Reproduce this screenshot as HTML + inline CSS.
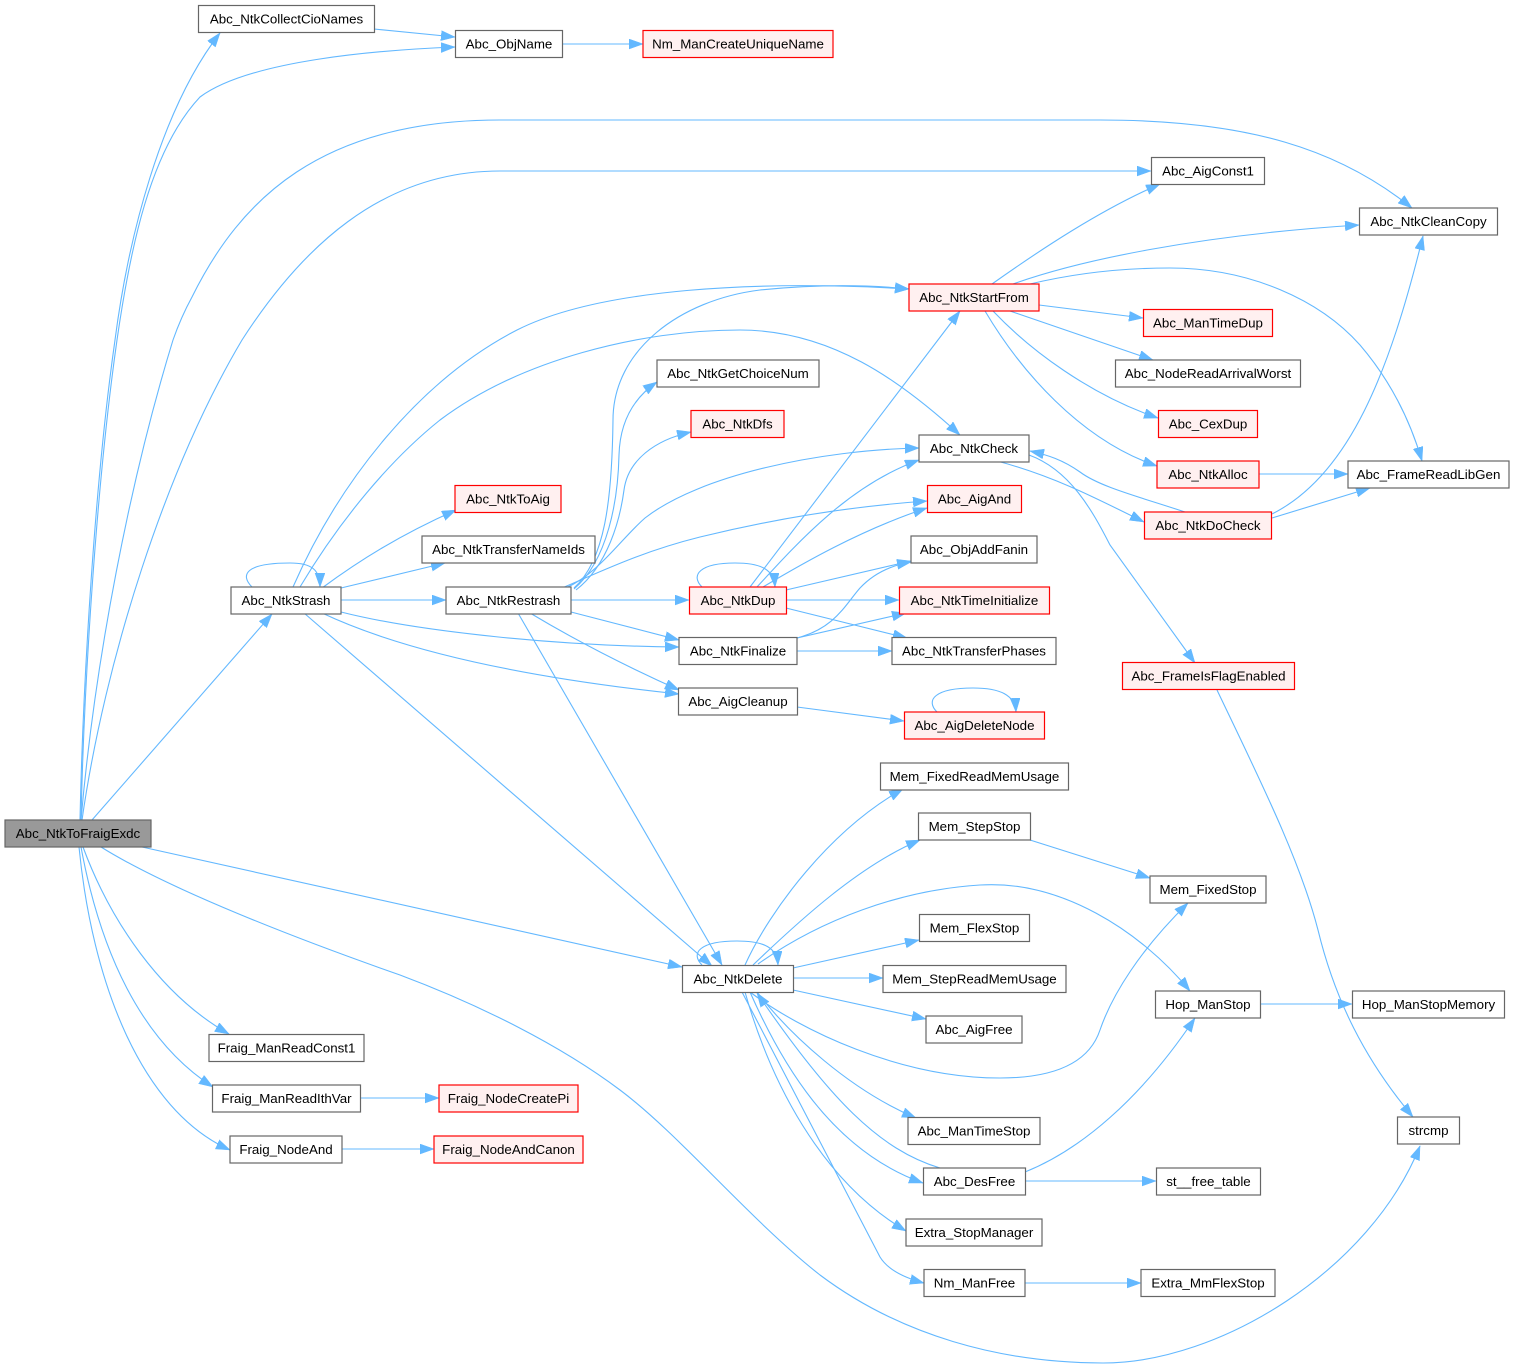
<!DOCTYPE html>
<html><head><meta charset="utf-8"><style>
html,body{margin:0;padding:0;background:#fff;}
svg{display:block;}
text{font-family:"Liberation Sans",Arial,sans-serif;font-size:13.33px;fill:#000;text-anchor:middle;}
.n{fill:#fff;stroke:#666;stroke-width:1.2;}
.r{fill:#fff0f0;stroke:#ff0000;stroke-width:1.2;}
.g{fill:#999;stroke:#666;stroke-width:1.2;}
.e{fill:none;stroke:#63b8ff;stroke-width:1.1;marker-end:url(#a);}
</style></head><body>
<svg width="1514" height="1370" viewBox="0 0 1514 1370" xmlns="http://www.w3.org/2000/svg">
<defs><marker id="a" markerWidth="15" markerHeight="11" refX="14" refY="5" orient="auto" markerUnits="userSpaceOnUse"><path d="M0,0 L14,5 L0,10z" fill="#63b8ff" stroke="#63b8ff" stroke-width="0.5"/></marker></defs>

<!-- edges -->
<path class="e" d="M80,820 C83,680 95,480 115,340 C128,240 160,110 220,33"/>
<path class="e" d="M81,820 C84,680 97,480 117,340 C130,250 150,150 200,97 C250,60 380,50 455,47"/>
<path class="e" d="M81,820 C95,660 130,480 173,340 C180,320 186,308 192,297 C240,200 320,120 500,120 L1100,120 C1250,120 1340,150 1412,208"/>
<path class="e" d="M82,820 C105,660 165,470 242,340 C300,250 380,171 500,171 L1151,171"/>
<path class="e" d="M92,820 L272,614"/>
<path class="e" d="M142,847 L682,967"/>
<path class="e" d="M101,847 C170,890 300,940 400,975 C480,1005 560,1045 620,1090 C680,1135 750,1220 820,1275 C900,1335 1000,1363 1103,1363 C1220,1363 1370,1270 1420,1146"/>
<path class="e" d="M83,847 C110,920 160,995 229,1034"/>
<path class="e" d="M81,847 C100,950 140,1040 213,1087"/>
<path class="e" d="M79,847 C92,980 140,1110 230,1150"/>
<path class="e" d="M374,29 L455,37"/>
<path class="e" d="M562,44 L643,44"/>

<path class="e" d="M252,587 C240,575 245,563 290,563 C312,563 320,570 320,587"/>
<path class="e" d="M293,587 C340,480 420,380 517,330 C600,288 760,280 909,289"/>
<path class="e" d="M300,587 C340,520 390,460 440,420 C520,360 640,330 740,330 C830,330 900,380 960,435"/>
<path class="e" d="M322,588 C360,560 400,535 456,510"/>
<path class="e" d="M341,588 L445,563"/>
<path class="e" d="M341,600 L446,600"/>
<path class="e" d="M341,612 C420,632 560,646 679,647"/>
<path class="e" d="M322,613 C390,645 500,675 679,694"/>
<path class="e" d="M304,613 L712,966"/>

<path class="e" d="M574,588 C605,560 612,500 613,420 C613,350 680,300 760,290 C830,283 880,286 909,289"/>
<path class="e" d="M574,589 C608,560 618,500 619,455 C620,420 635,397 657,382"/>
<path class="e" d="M576,590 C608,565 620,520 624,490 C628,460 655,440 691,432"/>
<path class="e" d="M566,588 C600,572 620,540 645,518 C700,475 820,450 919,448"/>
<path class="e" d="M562,588 C600,572 640,552 700,537 C790,515 870,505 927,501"/>
<path class="e" d="M571,600 L689,600"/>
<path class="e" d="M571,612 L679,640"/>
<path class="e" d="M530,613 C575,640 630,668 679,690"/>
<path class="e" d="M518,613 L722,965"/>

<path class="e" d="M702,587 C690,575 700,563 735,563 C762,563 774,570 775,587"/>
<path class="e" d="M750,587 L960,311"/>
<path class="e" d="M757,587 C800,540 850,485 919,460"/>
<path class="e" d="M763,587 C800,565 860,530 927,508"/>
<path class="e" d="M786,590 L911,561"/>
<path class="e" d="M786,600 L899,600"/>
<path class="e" d="M786,608 L907,638"/>

<path class="e" d="M797,638 C835,628 845,605 860,588 C875,572 893,565 911,562"/>
<path class="e" d="M797,638 L906,613"/>
<path class="e" d="M797,651 L892,651"/>
<path class="e" d="M797,707 L904,721"/>
<path class="e" d="M937,712 C925,700 935,688 973,688 C1000,688 1015,695 1016,712"/>

<path class="e" d="M992,284 C1040,250 1100,210 1160,184"/>
<path class="e" d="M1013,284 C1080,260 1200,235 1359,225"/>
<path class="e" d="M1030,284 C1080,272 1130,268 1170,268 C1250,268 1320,300 1360,345 C1390,380 1410,420 1422,461"/>
<path class="e" d="M1039,305 L1143,318"/>
<path class="e" d="M1010,311 L1153,360"/>
<path class="e" d="M993,311 C1030,350 1090,395 1158,418"/>
<path class="e" d="M985,311 C1020,370 1080,440 1157,466"/>

<path class="e" d="M997,461 C1050,475 1090,495 1144,522"/>
<path class="e" d="M1029,455 C1070,470 1092,510 1110,545 L1195,663"/>
<path class="e" d="M1185,512 C1140,497 1100,487 1080,472 C1063,460 1048,455 1030,451"/>
<path class="e" d="M1272,514 C1350,475 1390,370 1423,236"/>
<path class="e" d="M1272,518 L1370,488"/>
<path class="e" d="M1259,474 L1348,474"/>
<path class="e" d="M1217,690 C1260,780 1300,860 1318,930 C1335,1000 1365,1060 1413,1117"/>

<path class="e" d="M702,965 C690,953 700,941 737,941 C765,941 777,948 778,965"/>
<path class="e" d="M745,965 C770,910 830,830 903,789"/>
<path class="e" d="M753,965 C800,920 860,865 920,840"/>
<path class="e" d="M758,964 C820,920 900,890 980,885 C1060,880 1140,930 1190,991"/>
<path class="e" d="M750,992 C800,1030 900,1078 1000,1078 C1060,1078 1090,1060 1100,1030 C1112,995 1140,950 1188,903"/>
<path class="e" d="M793,968 L919,940"/>
<path class="e" d="M793,978 L883,978"/>
<path class="e" d="M793,990 L926,1019"/>
<path class="e" d="M757,992 C790,1035 850,1090 916,1118"/>
<path class="e" d="M750,992 C780,1060 830,1150 923,1183"/>
<path class="e" d="M940,1168 C880,1150 830,1100 757,993"/>
<path class="e" d="M745,992 C770,1080 820,1180 906,1231"/>
<path class="e" d="M742,992 L880,1257 C888,1270 905,1278 924,1283"/>

<path class="e" d="M1030,840 L1150,878"/>
<path class="e" d="M1260,1004 L1352,1004"/>
<path class="e" d="M1025,1172 C1080,1150 1140,1100 1195,1018"/>
<path class="e" d="M1025,1181 L1156,1181"/>
<path class="e" d="M1025,1283 L1141,1283"/>
<path class="e" d="M360,1098 L439,1098"/>
<path class="e" d="M342,1149 L434,1149"/>

<!-- nodes -->
<rect class="g" x="5" y="820" width="146" height="27"/><text x="78" y="838">Abc_NtkToFraigExdc</text>
<rect class="n" x="198.5" y="5.5" width="176" height="27"/><text x="286.5" y="23.5">Abc_NtkCollectCioNames</text>
<rect class="n" x="455.5" y="30.5" width="107" height="27"/><text x="509" y="48.5">Abc_ObjName</text>
<rect class="r" x="643" y="30.5" width="190" height="27"/><text x="738" y="48.5">Nm_ManCreateUniqueName</text>
<rect class="n" x="1151.5" y="157.5" width="113" height="27"/><text x="1208" y="175.5">Abc_AigConst1</text>
<rect class="n" x="1359.5" y="208" width="138" height="27"/><text x="1428.5" y="226">Abc_NtkCleanCopy</text>
<rect class="r" x="909" y="284" width="130" height="27"/><text x="974" y="302">Abc_NtkStartFrom</text>
<rect class="r" x="1143.5" y="309.5" width="129" height="27"/><text x="1208" y="327.5">Abc_ManTimeDup</text>
<rect class="n" x="1115.5" y="360" width="185" height="27"/><text x="1208" y="378">Abc_NodeReadArrivalWorst</text>
<rect class="n" x="657" y="360" width="162" height="27"/><text x="738" y="378">Abc_NtkGetChoiceNum</text>
<rect class="r" x="691" y="410.5" width="93" height="27"/><text x="737.5" y="428.5">Abc_NtkDfs</text>
<rect class="r" x="1158.5" y="410.5" width="99" height="27"/><text x="1208" y="428.5">Abc_CexDup</text>
<rect class="n" x="919" y="435" width="110" height="27"/><text x="974" y="453">Abc_NtkCheck</text>
<rect class="r" x="1157" y="461" width="102" height="27"/><text x="1208" y="479">Abc_NtkAlloc</text>
<rect class="n" x="1348" y="461" width="161" height="27"/><text x="1428.5" y="479">Abc_FrameReadLibGen</text>
<rect class="r" x="455" y="485.5" width="106" height="27"/><text x="508" y="503.5">Abc_NtkToAig</text>
<rect class="r" x="927.5" y="485.5" width="94" height="27"/><text x="974.5" y="503.5">Abc_AigAnd</text>
<rect class="r" x="1144.5" y="512" width="127" height="27"/><text x="1208" y="530">Abc_NtkDoCheck</text>
<rect class="n" x="422" y="536" width="173" height="27"/><text x="508.5" y="554">Abc_NtkTransferNameIds</text>
<rect class="n" x="911" y="536" width="126" height="27"/><text x="974" y="554">Abc_ObjAddFanin</text>
<rect class="n" x="231" y="587" width="110" height="27"/><text x="286" y="605">Abc_NtkStrash</text>
<rect class="n" x="446" y="587" width="125" height="27"/><text x="508.5" y="605">Abc_NtkRestrash</text>
<rect class="r" x="689.5" y="587" width="97" height="27"/><text x="738" y="605">Abc_NtkDup</text>
<rect class="r" x="899.5" y="587" width="150" height="27"/><text x="974.5" y="605">Abc_NtkTimeInitialize</text>
<rect class="n" x="679" y="637.5" width="118" height="27"/><text x="738" y="655.5">Abc_NtkFinalize</text>
<rect class="n" x="892" y="637.5" width="164" height="27"/><text x="974" y="655.5">Abc_NtkTransferPhases</text>
<rect class="r" x="1122.5" y="662.5" width="172" height="27"/><text x="1208.5" y="680.5">Abc_FrameIsFlagEnabled</text>
<rect class="n" x="678.5" y="688" width="119" height="27"/><text x="738" y="706">Abc_AigCleanup</text>
<rect class="r" x="904.5" y="712" width="140" height="27"/><text x="974.5" y="730">Abc_AigDeleteNode</text>
<rect class="n" x="880.5" y="763" width="188" height="27"/><text x="974.5" y="781">Mem_FixedReadMemUsage</text>
<rect class="n" x="918.5" y="813" width="112" height="27"/><text x="974.5" y="831">Mem_StepStop</text>
<rect class="n" x="1150" y="876" width="116" height="27"/><text x="1208" y="894">Mem_FixedStop</text>
<rect class="n" x="919.5" y="914.5" width="110" height="27"/><text x="974.5" y="932.5">Mem_FlexStop</text>
<rect class="n" x="682.5" y="965.5" width="111" height="27"/><text x="738" y="983.5">Abc_NtkDelete</text>
<rect class="n" x="883" y="965.5" width="183" height="27"/><text x="974.5" y="983.5">Mem_StepReadMemUsage</text>
<rect class="n" x="1155.5" y="991" width="105" height="27"/><text x="1208" y="1009">Hop_ManStop</text>
<rect class="n" x="1352.5" y="991" width="152" height="27"/><text x="1428.5" y="1009">Hop_ManStopMemory</text>
<rect class="n" x="926" y="1016" width="96" height="27"/><text x="974" y="1034">Abc_AigFree</text>
<rect class="n" x="209" y="1034.5" width="155" height="27"/><text x="286.5" y="1052.5">Fraig_ManReadConst1</text>
<rect class="n" x="212.5" y="1085" width="148" height="27"/><text x="286.5" y="1103">Fraig_ManReadIthVar</text>
<rect class="r" x="439" y="1085" width="139" height="27"/><text x="508.5" y="1103">Fraig_NodeCreatePi</text>
<rect class="n" x="908" y="1117.5" width="132" height="27"/><text x="974" y="1135.5">Abc_ManTimeStop</text>
<rect class="n" x="1397.5" y="1117" width="62" height="27"/><text x="1428.5" y="1135">strcmp</text>
<rect class="n" x="230" y="1136" width="112" height="27"/><text x="286" y="1154">Fraig_NodeAnd</text>
<rect class="r" x="434" y="1136" width="149" height="27"/><text x="508.5" y="1154">Fraig_NodeAndCanon</text>
<rect class="n" x="923.5" y="1168" width="102" height="27"/><text x="974.5" y="1186">Abc_DesFree</text>
<rect class="n" x="1156.5" y="1168" width="104" height="27"/><text x="1208.5" y="1186">st__free_table</text>
<rect class="n" x="906" y="1219" width="136" height="27"/><text x="974" y="1237">Extra_StopManager</text>
<rect class="n" x="924" y="1269.5" width="101" height="27"/><text x="974.5" y="1287.5">Nm_ManFree</text>
<rect class="n" x="1141" y="1269.5" width="134" height="27"/><text x="1208" y="1287.5">Extra_MmFlexStop</text>
</svg>
</body></html>
